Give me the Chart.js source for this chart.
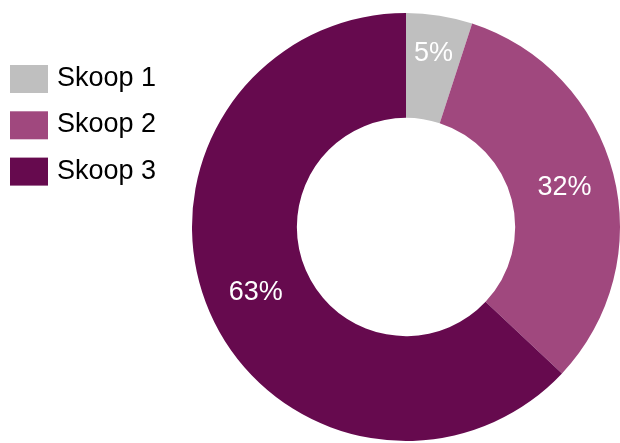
<!DOCTYPE html>
<html>
<head>
<meta charset="utf-8">
<script src="https://cdn.jsdelivr.net/npm/chart.js@4/dist/chart.umd.min.js"></script>
<style>
  html, body { margin: 0; padding: 0; background: #ffffff; }
  #wrap { width: 620px; height: 443px; position: relative; }
</style>
</head>
<body>
<div id="wrap"><canvas id="c" width="620" height="443"></canvas></div>
<script>
const categories = ["Skoop 1", "Skoop 2", "Skoop 3"];
const values = [5, 32, 63];
const valueLabels = ["5%", "32%", "63%"];
const colors = ["#bfbfbf", "#a0487e", "#660a4e"];

const FONT = "'Liberation Sans', Arial, sans-serif";

const sideLegend = {
  id: 'sideLegend',
  afterDraw(chart) {
    const ctx = chart.ctx;
    const ds = chart.data.datasets[0];
    ctx.save();
    chart.data.labels.forEach((lab, i) => {
      const top = 65 + i * 46.3;
      ctx.fillStyle = ds.backgroundColor[i];
      ctx.fillRect(10, top, 38, 28);
      ctx.fillStyle = '#000000';
      ctx.font = '27px ' + FONT;
      ctx.textBaseline = 'alphabetic';
      ctx.textAlign = 'left';
      ctx.fillText(lab, 57, top + 21);
    });
    ctx.restore();
  }
};

const sliceLabels = {
  id: 'sliceLabels',
  afterDatasetsDraw(chart) {
    const ctx = chart.ctx;
    const meta = chart.getDatasetMeta(0);
    ctx.save();
    ctx.fillStyle = '#ffffff';
    ctx.font = '27px ' + FONT;
    ctx.textAlign = 'center';
    ctx.textBaseline = 'middle';
    meta.data.forEach((arc, i) => {
      const p = arc.getProps(['x', 'y', 'startAngle', 'endAngle', 'innerRadius', 'outerRadius'], true);
      const mid = (p.startAngle + p.endAngle) / 2;
      const frac = i === 0 ? 0.64 : 0.52;
      const r = p.innerRadius + (p.outerRadius - p.innerRadius) * frac;
      ctx.fillText(valueLabels[i], p.x + Math.cos(mid) * r, p.y + Math.sin(mid) * r + 1);
    });
    ctx.restore();
  }
};

new Chart(document.getElementById('c'), {
  type: 'doughnut',
  data: {
    labels: categories,
    datasets: [{
      data: values,
      backgroundColor: colors,
      borderWidth: 0,
      hoverOffset: 0
    }]
  },
  options: {
    responsive: false,
    animation: false,
    cutout: '51%',
    layout: { padding: { left: 192, right: 0, top: 12, bottom: 1 } },
    plugins: {
      legend: { display: false },
      tooltip: { enabled: false }
    }
  },
  plugins: [sideLegend, sliceLabels]
});
</script>
</body>
</html>
